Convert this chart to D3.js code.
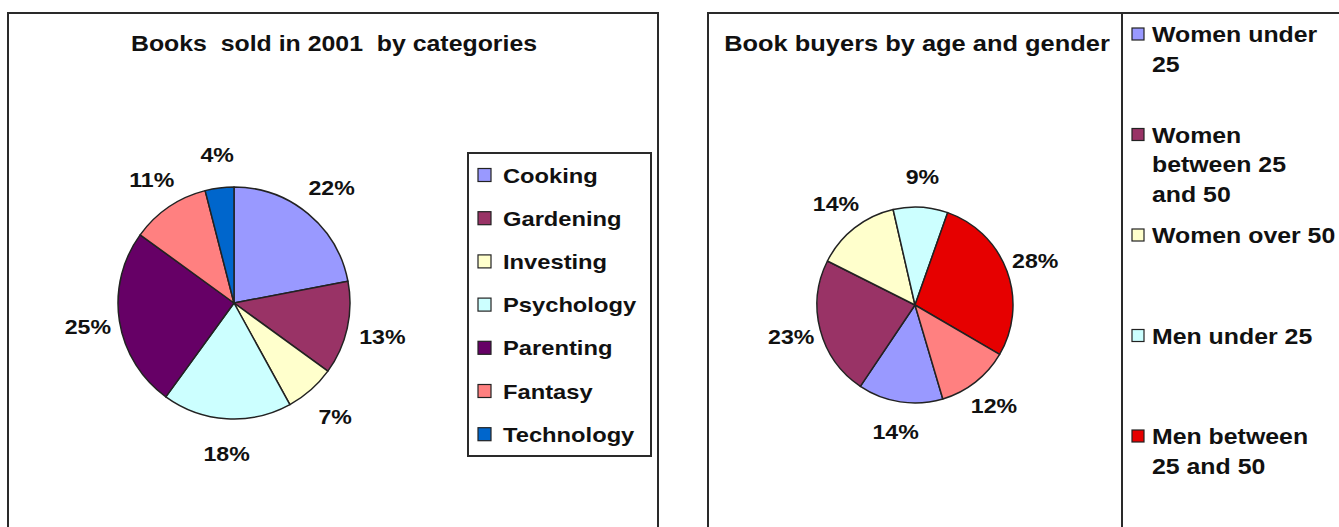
<!DOCTYPE html>
<html>
<head>
<meta charset="utf-8">
<script src="https://cdn.jsdelivr.net/npm/d3@7"></script>
<style>
  html, body { margin: 0; padding: 0; background: #fff; }
  svg { display: block; }
  text { font-family: "Liberation Sans", Arial, sans-serif; font-weight: bold; fill: #111; }
</style>
</head>
<body>
<svg id="chart" width="1339" height="527"></svg>
<script>
// ---- Data: left chart ----
const leftTitle = "Books  sold in 2001  by categories";
const leftCategories = ["Cooking", "Gardening", "Investing", "Psychology", "Parenting", "Fantasy", "Technology"];
const leftValues = [22, 13, 7, 18, 25, 11, 4];
const leftColors = ["#9999FF", "#993366", "#FFFFCC", "#CCFFFF", "#660066", "#FF8080", "#0066CC"];

// ---- Data: right chart ----
const rightTitle = "Book buyers by age and gender";
const rightCategories = ["Women under 25", "Women between 25 and 50", "Women over 50", "Men under 25", "Men between 25 and 50", "Men over 50"];
const rightLegendLines = [["Women under", "25"], ["Women", "between 25", "and 50"], ["Women over 50"], ["Men under 25"], ["Men between", "25 and 50"], ["Men over 50"]];
const rightValues = [14, 23, 14, 9, 28, 12];
const rightColors = ["#9999FF", "#993366", "#FFFFCC", "#CCFFFF", "#E60000", "#FF8080"];

const svg = d3.select("#chart");
svg.append("rect").attr("width", 1339).attr("height", 527).attr("fill", "#fff");

const SX = 1.13; // horizontal stretch of the original picture's text
function stext(g, x, y, str, size, anchor) {
  return g.append("text")
    .attr("transform", `translate(${x},${y}) scale(${SX},1)`)
    .attr("text-anchor", anchor || "start")
    .attr("font-size", size)
    .text(str);
}

// ---- Frames ----
svg.append("rect").attr("x", 8).attr("y", 13).attr("width", 650).attr("height", 600)
  .attr("fill", "none").attr("stroke", "#2a2a2a").attr("stroke-width", 2);
svg.append("rect").attr("x", 708).attr("y", 13).attr("width", 700).attr("height", 600)
  .attr("fill", "none").attr("stroke", "#2a2a2a").attr("stroke-width", 2);
svg.append("line").attr("x1", 1122).attr("x2", 1122).attr("y1", 13).attr("y2", 540)
  .attr("stroke", "#2a2a2a").attr("stroke-width", 2);

// ---- Left pie ----
(function () {
  const g = svg.append("g");
  stext(g, 334, 51, leftTitle, 22, "middle").style("white-space", "pre");

  const cx = 234, cy = 303, r = 116, lr = 150;
  const pie = d3.pie().sort(null).value(d => d.v).startAngle(0).endAngle(2 * Math.PI);
  const data = pie(leftCategories.map((c, i) => ({ c, v: leftValues[i], col: leftColors[i] })));
  const arc = d3.arc().innerRadius(0).outerRadius(r);
  const labelArc = d3.arc().innerRadius(lr).outerRadius(lr);
  const pg = g.append("g").attr("transform", `translate(${cx},${cy})`);
  pg.selectAll("path").data(data).join("path")
    .attr("d", arc).attr("fill", d => d.data.col)
    .attr("stroke", "#222").attr("stroke-width", 1.5).attr("stroke-linejoin", "round");
  data.forEach(d => {
    const [x, y] = labelArc.centroid(d);
    stext(pg, x + 2, y + 8, d.data.v + "%", 20.5, "middle");
  });

  // legend
  const lx = 468, ly = 153, lw = 183, lh = 303;
  g.append("rect").attr("x", lx).attr("y", ly).attr("width", lw).attr("height", lh)
    .attr("fill", "#fff").attr("stroke", "#2a2a2a").attr("stroke-width", 2);
  const step = 43.2, first = 175;
  leftCategories.forEach((c, i) => {
    const yc = first + i * step;
    g.append("rect").attr("x", 478).attr("y", yc - 6.5).attr("width", 13).attr("height", 13)
      .attr("fill", leftColors[i]).attr("stroke", "#222").attr("stroke-width", 1.2);
    stext(g, 503, yc + 7.5, c, 21, "start");
  });
})();

// ---- Right pie ----
(function () {
  const g = svg.append("g");
  stext(g, 917, 51, rightTitle, 22.5, "middle");

  const cx = 915, cy = 305, r = 98, lr = 128;
  const start = 163.5 * Math.PI / 180;
  const pie = d3.pie().sort(null).value(d => d.v).startAngle(start).endAngle(start + 2 * Math.PI);
  const data = pie(rightCategories.map((c, i) => ({ c, v: rightValues[i], col: rightColors[i] })));
  const arc = d3.arc().innerRadius(0).outerRadius(r);
  const labelArc = d3.arc().innerRadius(lr).outerRadius(lr);
  const pg = g.append("g").attr("transform", `translate(${cx},${cy})`);
  pg.selectAll("path").data(data).join("path")
    .attr("d", arc).attr("fill", d => d.data.col)
    .attr("stroke", "#222").attr("stroke-width", 1.5).attr("stroke-linejoin", "round");
  data.forEach(d => {
    const [x, y] = labelArc.centroid(d);
    stext(pg, x, y + 7, d.data.v + "%", 20.5, "middle");
  });

  // legend (entries top-aligned on a fixed pitch; the last falls below the visible area)
  const first = 34, pitch = 100.5, lineH = 29.5;
  rightCategories.forEach((c, i) => {
    const yc = first + i * pitch;
    if (yc > 520) return; // cut off in the original picture
    g.append("rect").attr("x", 1132).attr("y", yc - 6).attr("width", 12).attr("height", 12)
      .attr("fill", rightColors[i]).attr("stroke", "#222").attr("stroke-width", 1.2);
    rightLegendLines[i].forEach((ln, k) => {
      stext(g, 1152, yc + 8 + k * lineH, ln, 22, "start");
    });
  });
})();
</script>
</body>
</html>
